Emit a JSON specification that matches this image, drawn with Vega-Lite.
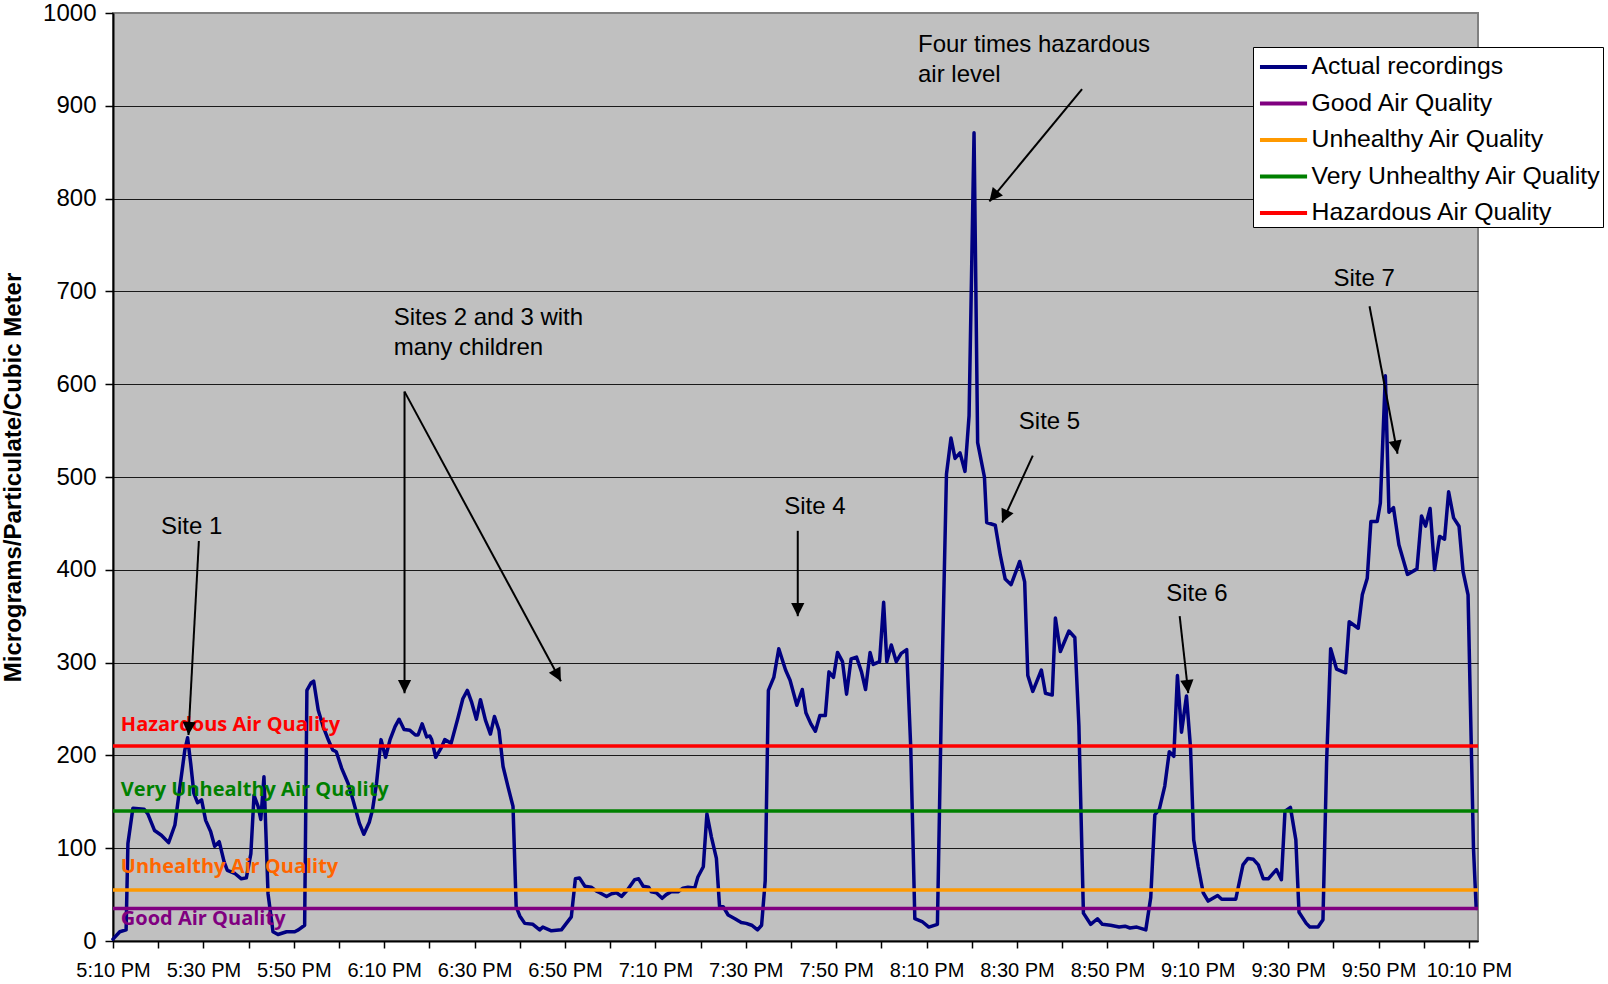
{
  "$schema": "https://vega.github.io/schema/vega-lite/v6.json",
  "width": 1365,
  "height": 928,
  "autosize": "none",
  "padding": {"left": 113, "top": 13, "right": 130, "bottom": 43},
  "background": "white",
  "config": {
    "font": "Liberation Sans",
    "view": {"fill": "#C0C0C0", "stroke": "#808080", "strokeWidth": 2},
    "axis": {"labelColor": "black", "tickColor": "black", "domainColor": "black", "titleColor": "black", "labelFont": "Liberation Sans", "titleFont": "Liberation Sans"}
  },
  "datasets": {
    "readings": [
      {"t": "17:10:00", "v": 2}, {"t": "17:11:30", "v": 10}, {"t": "17:12:54", "v": 12}, {"t": "17:13:18", "v": 105},
      {"t": "17:14:24", "v": 143}, {"t": "17:16:54", "v": 142}, {"t": "17:17:42", "v": 137}, {"t": "17:19:12", "v": 119},
      {"t": "17:20:42", "v": 114}, {"t": "17:22:18", "v": 106}, {"t": "17:23:42", "v": 125}, {"t": "17:24:48", "v": 166},
      {"t": "17:25:54", "v": 206}, {"t": "17:26:30", "v": 219}, {"t": "17:27:12", "v": 191}, {"t": "17:27:54", "v": 159},
      {"t": "17:28:42", "v": 149}, {"t": "17:29:36", "v": 152}, {"t": "17:30:30", "v": 130}, {"t": "17:31:36", "v": 118},
      {"t": "17:32:30", "v": 102}, {"t": "17:33:30", "v": 107}, {"t": "17:34:36", "v": 85}, {"t": "17:35:18", "v": 76},
      {"t": "17:36:54", "v": 73}, {"t": "17:38:24", "v": 67}, {"t": "17:39:30", "v": 68}, {"t": "17:40:30", "v": 94},
      {"t": "17:41:12", "v": 157}, {"t": "17:42:06", "v": 145}, {"t": "17:42:42", "v": 131}, {"t": "17:43:24", "v": 177},
      {"t": "17:44:18", "v": 51}, {"t": "17:45:24", "v": 10}, {"t": "17:46:30", "v": 7}, {"t": "17:48:24", "v": 10},
      {"t": "17:50:12", "v": 10}, {"t": "17:51:00", "v": 12}, {"t": "17:52:24", "v": 17}, {"t": "17:52:54", "v": 270},
      {"t": "17:53:48", "v": 278}, {"t": "17:54:24", "v": 280}, {"t": "17:55:24", "v": 249}, {"t": "17:56:30", "v": 231},
      {"t": "17:57:42", "v": 216}, {"t": "17:58:36", "v": 206}, {"t": "17:59:24", "v": 204}, {"t": "18:00:36", "v": 186},
      {"t": "18:02:00", "v": 170}, {"t": "18:03:06", "v": 152}, {"t": "18:04:30", "v": 127}, {"t": "18:05:30", "v": 115},
      {"t": "18:06:42", "v": 128}, {"t": "18:07:24", "v": 141}, {"t": "18:08:18", "v": 170}, {"t": "18:09:18", "v": 217},
      {"t": "18:10:18", "v": 198}, {"t": "18:11:18", "v": 217}, {"t": "18:12:24", "v": 231}, {"t": "18:13:18", "v": 239},
      {"t": "18:14:24", "v": 228}, {"t": "18:15:42", "v": 227}, {"t": "18:16:54", "v": 222}, {"t": "18:17:30", "v": 222},
      {"t": "18:18:24", "v": 234}, {"t": "18:19:24", "v": 220}, {"t": "18:20:06", "v": 221}, {"t": "18:20:30", "v": 217},
      {"t": "18:21:24", "v": 198}, {"t": "18:22:42", "v": 209}, {"t": "18:23:24", "v": 217}, {"t": "18:24:48", "v": 213},
      {"t": "18:26:18", "v": 240}, {"t": "18:27:24", "v": 261}, {"t": "18:28:24", "v": 270}, {"t": "18:29:18", "v": 258},
      {"t": "18:30:24", "v": 239}, {"t": "18:31:18", "v": 260}, {"t": "18:32:24", "v": 238}, {"t": "18:33:30", "v": 223},
      {"t": "18:34:24", "v": 242}, {"t": "18:35:24", "v": 227}, {"t": "18:36:18", "v": 188}, {"t": "18:37:24", "v": 166},
      {"t": "18:38:30", "v": 145}, {"t": "18:39:12", "v": 37}, {"t": "18:40:00", "v": 27}, {"t": "18:41:06", "v": 19},
      {"t": "18:42:54", "v": 18}, {"t": "18:44:24", "v": 12}, {"t": "18:45:06", "v": 15}, {"t": "18:47:00", "v": 11},
      {"t": "18:49:12", "v": 12}, {"t": "18:51:24", "v": 26}, {"t": "18:52:18", "v": 67}, {"t": "18:53:12", "v": 68},
      {"t": "18:54:24", "v": 59}, {"t": "18:55:48", "v": 58}, {"t": "18:56:54", "v": 54}, {"t": "18:57:42", "v": 52},
      {"t": "18:59:12", "v": 48}, {"t": "19:00:18", "v": 51}, {"t": "19:01:24", "v": 52}, {"t": "19:02:30", "v": 48},
      {"t": "19:03:48", "v": 55}, {"t": "19:05:24", "v": 66}, {"t": "19:06:18", "v": 67}, {"t": "19:07:18", "v": 59},
      {"t": "19:08:30", "v": 58}, {"t": "19:09:06", "v": 53}, {"t": "19:10:12", "v": 52}, {"t": "19:11:30", "v": 46},
      {"t": "19:12:24", "v": 50}, {"t": "19:13:30", "v": 53}, {"t": "19:15:00", "v": 53}, {"t": "19:16:06", "v": 57},
      {"t": "19:17:12", "v": 58}, {"t": "19:18:42", "v": 57}, {"t": "19:19:24", "v": 69}, {"t": "19:20:36", "v": 80},
      {"t": "19:21:24", "v": 137}, {"t": "19:22:24", "v": 112}, {"t": "19:23:30", "v": 89}, {"t": "19:24:12", "v": 37},
      {"t": "19:25:00", "v": 37}, {"t": "19:26:06", "v": 28}, {"t": "19:27:36", "v": 24}, {"t": "19:29:00", "v": 20},
      {"t": "19:30:06", "v": 19}, {"t": "19:31:18", "v": 17}, {"t": "19:32:36", "v": 12}, {"t": "19:33:30", "v": 17},
      {"t": "19:34:18", "v": 65}, {"t": "19:35:00", "v": 270}, {"t": "19:36:12", "v": 284}, {"t": "19:37:18", "v": 315},
      {"t": "19:38:48", "v": 292}, {"t": "19:39:48", "v": 281}, {"t": "19:41:18", "v": 254}, {"t": "19:42:30", "v": 271},
      {"t": "19:43:18", "v": 246}, {"t": "19:44:24", "v": 234}, {"t": "19:45:24", "v": 226}, {"t": "19:46:24", "v": 243},
      {"t": "19:47:36", "v": 243}, {"t": "19:48:24", "v": 290}, {"t": "19:49:24", "v": 284}, {"t": "19:50:18", "v": 311},
      {"t": "19:51:24", "v": 301}, {"t": "19:52:18", "v": 266}, {"t": "19:53:18", "v": 304}, {"t": "19:54:30", "v": 306},
      {"t": "19:55:36", "v": 290}, {"t": "19:56:30", "v": 271}, {"t": "19:57:30", "v": 311}, {"t": "19:58:12", "v": 298},
      {"t": "19:59:36", "v": 301}, {"t": "20:00:30", "v": 365}, {"t": "20:01:12", "v": 301}, {"t": "20:02:12", "v": 319},
      {"t": "20:03:18", "v": 301}, {"t": "20:04:24", "v": 310}, {"t": "20:05:36", "v": 314}, {"t": "20:06:30", "v": 208},
      {"t": "20:07:24", "v": 24}, {"t": "20:09:00", "v": 21}, {"t": "20:10:30", "v": 15}, {"t": "20:12:24", "v": 18},
      {"t": "20:13:18", "v": 260}, {"t": "20:14:24", "v": 503}, {"t": "20:15:24", "v": 542}, {"t": "20:16:18", "v": 520},
      {"t": "20:17:24", "v": 526}, {"t": "20:18:30", "v": 506}, {"t": "20:19:24", "v": 566}, {"t": "20:20:30", "v": 871},
      {"t": "20:21:18", "v": 537}, {"t": "20:22:48", "v": 500}, {"t": "20:23:18", "v": 451}, {"t": "20:25:12", "v": 448},
      {"t": "20:26:18", "v": 416}, {"t": "20:27:24", "v": 390}, {"t": "20:28:42", "v": 384}, {"t": "20:30:36", "v": 409},
      {"t": "20:31:42", "v": 387}, {"t": "20:32:24", "v": 286}, {"t": "20:33:30", "v": 269}, {"t": "20:35:24", "v": 292},
      {"t": "20:36:18", "v": 267}, {"t": "20:37:48", "v": 265}, {"t": "20:38:30", "v": 348}, {"t": "20:39:36", "v": 312},
      {"t": "20:41:30", "v": 334}, {"t": "20:42:48", "v": 327}, {"t": "20:43:42", "v": 232}, {"t": "20:44:42", "v": 30},
      {"t": "20:46:18", "v": 18}, {"t": "20:47:48", "v": 24}, {"t": "20:48:54", "v": 18}, {"t": "20:50:42", "v": 17},
      {"t": "20:52:36", "v": 15}, {"t": "20:53:54", "v": 16}, {"t": "20:55:00", "v": 14}, {"t": "20:56:30", "v": 15},
      {"t": "20:58:30", "v": 12}, {"t": "20:59:36", "v": 47}, {"t": "21:00:30", "v": 136}, {"t": "21:01:30", "v": 142},
      {"t": "21:02:42", "v": 167}, {"t": "21:03:42", "v": 204}, {"t": "21:04:42", "v": 199}, {"t": "21:05:30", "v": 286},
      {"t": "21:06:24", "v": 225}, {"t": "21:07:30", "v": 264}, {"t": "21:08:24", "v": 208}, {"t": "21:09:06", "v": 109},
      {"t": "21:10:06", "v": 80}, {"t": "21:11:12", "v": 52}, {"t": "21:12:18", "v": 43}, {"t": "21:14:24", "v": 49},
      {"t": "21:15:18", "v": 45}, {"t": "21:18:24", "v": 45}, {"t": "21:20:00", "v": 82}, {"t": "21:21:06", "v": 89},
      {"t": "21:22:18", "v": 88}, {"t": "21:23:24", "v": 82}, {"t": "21:24:30", "v": 67}, {"t": "21:25:36", "v": 67},
      {"t": "21:27:24", "v": 77}, {"t": "21:28:30", "v": 66}, {"t": "21:29:18", "v": 140}, {"t": "21:30:30", "v": 144},
      {"t": "21:31:42", "v": 109}, {"t": "21:32:24", "v": 31}, {"t": "21:34:00", "v": 19}, {"t": "21:34:48", "v": 15},
      {"t": "21:36:36", "v": 15}, {"t": "21:37:42", "v": 23}, {"t": "21:38:30", "v": 192}, {"t": "21:39:24", "v": 315},
      {"t": "21:40:42", "v": 293}, {"t": "21:42:42", "v": 289}, {"t": "21:43:30", "v": 344}, {"t": "21:45:30", "v": 337},
      {"t": "21:46:24", "v": 373}, {"t": "21:47:30", "v": 391}, {"t": "21:48:18", "v": 452}, {"t": "21:49:42", "v": 452},
      {"t": "21:50:24", "v": 472}, {"t": "21:51:30", "v": 609}, {"t": "21:52:18", "v": 462}, {"t": "21:53:18", "v": 467},
      {"t": "21:54:30", "v": 427}, {"t": "21:56:24", "v": 395}, {"t": "21:58:30", "v": 401}, {"t": "21:59:30", "v": 458},
      {"t": "22:00:24", "v": 447}, {"t": "22:01:24", "v": 466}, {"t": "22:02:24", "v": 400}, {"t": "22:03:30", "v": 436},
      {"t": "22:04:36", "v": 433}, {"t": "22:05:30", "v": 484}, {"t": "22:06:36", "v": 456}, {"t": "22:07:48", "v": 447},
      {"t": "22:08:42", "v": 398}, {"t": "22:09:48", "v": 373}, {"t": "22:11:00", "v": 100}, {"t": "22:11:36", "v": 35}
    ],
    "levels": [
      {"level": "Good Air Quality", "v": 35},
      {"level": "Unhealthy Air Quality", "v": 55},
      {"level": "Very Unhealthy Air Quality", "v": 140},
      {"level": "Hazardous Air Quality", "v": 210}
    ],
    "levelTags": [
      {"level": "Hazardous Air Quality", "t": "17:11:44", "v": 233},
      {"level": "Very Unhealthy Air Quality", "t": "17:11:44", "v": 163},
      {"level": "Unhealthy Air Quality", "t": "17:11:44", "v": 80},
      {"level": "Good Air Quality", "t": "17:11:44", "v": 24}
    ],
    "siteNotes": [
      {"note": "Site 1", "t": "17:27:24", "v": 439},
      {"note": "Site 4", "t": "19:45:18", "v": 460},
      {"note": "Site 5", "t": "20:37:12", "v": 552},
      {"note": "Site 6", "t": "21:09:48", "v": 366},
      {"note": "Site 7", "t": "21:46:48", "v": 706}
    ],
    "longNotes": [
      {"note": "Sites 2 and 3 with\nmany children", "t": "18:12:06", "v": 664},
      {"note": "Four times hazardous\nair level", "t": "20:08:06", "v": 958}
    ],
    "arrows": [
      {"arrow": "site1", "part": "tail", "t": "17:29:00", "v": 431},
      {"arrow": "site1", "part": "tip", "t": "17:26:42", "v": 222},
      {"arrow": "sites23a", "part": "tail", "t": "18:14:30", "v": 592},
      {"arrow": "sites23a", "part": "tip", "t": "18:14:30", "v": 267},
      {"arrow": "sites23b", "part": "tail", "t": "18:14:30", "v": 592},
      {"arrow": "sites23b", "part": "tip", "t": "18:49:06", "v": 280},
      {"arrow": "site4", "part": "tail", "t": "19:41:30", "v": 442},
      {"arrow": "site4", "part": "tip", "t": "19:41:30", "v": 350},
      {"arrow": "peak", "part": "tail", "t": "20:44:24", "v": 918},
      {"arrow": "peak", "part": "tip", "t": "20:23:54", "v": 797},
      {"arrow": "site5", "part": "tail", "t": "20:33:30", "v": 523},
      {"arrow": "site5", "part": "tip", "t": "20:26:42", "v": 451},
      {"arrow": "site6", "part": "tail", "t": "21:06:00", "v": 350},
      {"arrow": "site6", "part": "tip", "t": "21:07:54", "v": 267},
      {"arrow": "site7", "part": "tail", "t": "21:48:00", "v": 684},
      {"arrow": "site7", "part": "tip", "t": "21:54:12", "v": 525}
    ]
  },
  "layer": [
    {
      "data": {"name": "readings", "format": {"parse": {"t": "date:'%H:%M:%S'"}}},
      "mark": {"type": "line", "strokeWidth": 3.5, "strokeJoin": "round", "strokeCap": "round"},
      "encoding": {
        "x": {
          "field": "t", "type": "temporal",
          "scale": {
            "domain": [
              {"year": 1900, "month": 1, "date": 1, "hours": 17, "minutes": 10},
              {"year": 1900, "month": 1, "date": 1, "hours": 22, "minutes": 12}
            ],
            "nice": false
          },
          "axis": {
            "title": null,
            "grid": false,
            "values": [
              {"year": 1900, "month": 1, "date": 1, "hours": 17, "minutes": 10},
              {"year": 1900, "month": 1, "date": 1, "hours": 17, "minutes": 20},
              {"year": 1900, "month": 1, "date": 1, "hours": 17, "minutes": 30},
              {"year": 1900, "month": 1, "date": 1, "hours": 17, "minutes": 40},
              {"year": 1900, "month": 1, "date": 1, "hours": 17, "minutes": 50},
              {"year": 1900, "month": 1, "date": 1, "hours": 18, "minutes": 0},
              {"year": 1900, "month": 1, "date": 1, "hours": 18, "minutes": 10},
              {"year": 1900, "month": 1, "date": 1, "hours": 18, "minutes": 20},
              {"year": 1900, "month": 1, "date": 1, "hours": 18, "minutes": 30},
              {"year": 1900, "month": 1, "date": 1, "hours": 18, "minutes": 40},
              {"year": 1900, "month": 1, "date": 1, "hours": 18, "minutes": 50},
              {"year": 1900, "month": 1, "date": 1, "hours": 19, "minutes": 0},
              {"year": 1900, "month": 1, "date": 1, "hours": 19, "minutes": 10},
              {"year": 1900, "month": 1, "date": 1, "hours": 19, "minutes": 20},
              {"year": 1900, "month": 1, "date": 1, "hours": 19, "minutes": 30},
              {"year": 1900, "month": 1, "date": 1, "hours": 19, "minutes": 40},
              {"year": 1900, "month": 1, "date": 1, "hours": 19, "minutes": 50},
              {"year": 1900, "month": 1, "date": 1, "hours": 20, "minutes": 0},
              {"year": 1900, "month": 1, "date": 1, "hours": 20, "minutes": 10},
              {"year": 1900, "month": 1, "date": 1, "hours": 20, "minutes": 20},
              {"year": 1900, "month": 1, "date": 1, "hours": 20, "minutes": 30},
              {"year": 1900, "month": 1, "date": 1, "hours": 20, "minutes": 40},
              {"year": 1900, "month": 1, "date": 1, "hours": 20, "minutes": 50},
              {"year": 1900, "month": 1, "date": 1, "hours": 21, "minutes": 0},
              {"year": 1900, "month": 1, "date": 1, "hours": 21, "minutes": 10},
              {"year": 1900, "month": 1, "date": 1, "hours": 21, "minutes": 20},
              {"year": 1900, "month": 1, "date": 1, "hours": 21, "minutes": 30},
              {"year": 1900, "month": 1, "date": 1, "hours": 21, "minutes": 40},
              {"year": 1900, "month": 1, "date": 1, "hours": 21, "minutes": 50},
              {"year": 1900, "month": 1, "date": 1, "hours": 22, "minutes": 0},
              {"year": 1900, "month": 1, "date": 1, "hours": 22, "minutes": 10}
            ],
            "labelExpr": "minutes(datum.value) % 20 == 10 ? timeFormat(datum.value, '%-I:%M %p') : ''",
            "labelFontSize": 20,
            "labelOverlap": false,
            "labelFlush": false,
            "tickSize": 7,
            "tickWidth": 1.5,
            "labelPadding": 12,
            "domainWidth": 2
          }
        },
        "y": {
          "field": "v", "type": "quantitative",
          "scale": {"domain": [0, 1000], "nice": false},
          "axis": {
            "title": "Micrograms/Particulate/Cubic Meter",
            "titleFontSize": 24,
            "titleFontWeight": "bold",
            "titleAngle": -90,
            "titleX": -100,
            "titleY": 464,
            "titleAlign": "center",
            "titleBaseline": "middle",
            "values": [0, 100, 200, 300, 400, 500, 600, 700, 800, 900, 1000],
            "format": "d",
            "labelFontSize": 24,
            "tickSize": 8,
            "tickWidth": 1.5,
            "labelPadding": 9,
            "domainWidth": 2,
            "grid": true,
            "gridWidth": 1,
            "gridColor": {"condition": {"test": "datum.value === 1000", "value": "#808080"}, "value": "#1a1a1a"}
          }
        },
        "color": {
          "datum": "Actual recordings", "type": "nominal",
          "scale": {
            "domain": ["Actual recordings", "Good Air Quality", "Unhealthy Air Quality", "Very Unhealthy Air Quality", "Hazardous Air Quality"],
            "range": ["#000080", "#800080", "#FF9900", "#008000", "#FF0000"]
          },
          "legend": {
            "title": null,
            "orient": "none",
            "legendX": 1140,
            "legendY": 34,
            "symbolType": "M-0.83,0L2.17,0",
            "symbolSize": 986,
            "symbolStrokeWidth": 4,
            "labelFont": "Liberation Sans",
            "labelFontSize": 24.8,
            "labelColor": "black",
            "labelOffset": 20.5,
            "labelLimit": 400,
            "padding": 2,
            "rowPadding": 6.5,
            "fillColor": "white",
            "strokeColor": "black"
          }
        }
      }
    },
    {
      "data": {"name": "levels"},
      "mark": {"type": "rule", "strokeWidth": 3.5},
      "encoding": {
        "y": {"field": "v", "type": "quantitative"},
        "color": {"field": "level", "type": "nominal", "legend": {"title": null}}
      }
    },
    {
      "data": {"name": "levelTags", "format": {"parse": {"t": "date:'%H:%M:%S'"}}},
      "mark": {"type": "text", "align": "left", "baseline": "middle", "font": "Open Sans", "fontWeight": "bold", "fontSize": 20},
      "encoding": {
        "x": {"field": "t", "type": "temporal"},
        "y": {"field": "v", "type": "quantitative"},
        "text": {"field": "level"},
        "color": {
          "condition": [
            {"test": "datum.level === 'Hazardous Air Quality'", "value": "#FF0000"},
            {"test": "datum.level === 'Very Unhealthy Air Quality'", "value": "#008000"},
            {"test": "datum.level === 'Unhealthy Air Quality'", "value": "#FF6600"}
          ],
          "value": "#800080"
        }
      }
    },
    {
      "data": {"name": "arrows", "format": {"parse": {"t": "date:'%H:%M:%S'"}}},
      "mark": {"type": "line", "strokeWidth": 2, "color": "black"},
      "encoding": {
        "x": {"field": "t", "type": "temporal"},
        "y": {"field": "v", "type": "quantitative"},
        "detail": {"field": "arrow"}
      }
    },
    {
      "data": {"values": [{"t": "17:26:42", "v": 222}], "format": {"parse": {"t": "date:'%H:%M:%S'"}}},
      "mark": {"type": "point", "shape": "M0,0L-0.5,-1L0.5,-1Z", "size": 700, "filled": true, "color": "black", "opacity": 1, "angle": 3.2},
      "encoding": {"x": {"field": "t", "type": "temporal"}, "y": {"field": "v", "type": "quantitative"}}
    },
    {
      "data": {"values": [{"t": "18:14:30", "v": 267}, {"t": "19:41:30", "v": 350}], "format": {"parse": {"t": "date:'%H:%M:%S'"}}},
      "mark": {"type": "point", "shape": "M0,0L-0.5,-1L0.5,-1Z", "size": 700, "filled": true, "color": "black", "opacity": 1, "angle": 0},
      "encoding": {"x": {"field": "t", "type": "temporal"}, "y": {"field": "v", "type": "quantitative"}}
    },
    {
      "data": {"values": [{"t": "18:49:06", "v": 280}], "format": {"parse": {"t": "date:'%H:%M:%S'"}}},
      "mark": {"type": "point", "shape": "M0,0L-0.5,-1L0.5,-1Z", "size": 700, "filled": true, "color": "black", "opacity": 1, "angle": -28.4},
      "encoding": {"x": {"field": "t", "type": "temporal"}, "y": {"field": "v", "type": "quantitative"}}
    },
    {
      "data": {"values": [{"t": "20:23:54", "v": 797}], "format": {"parse": {"t": "date:'%H:%M:%S'"}}},
      "mark": {"type": "point", "shape": "M0,0L-0.5,-1L0.5,-1Z", "size": 700, "filled": true, "color": "black", "opacity": 1, "angle": 39.5},
      "encoding": {"x": {"field": "t", "type": "temporal"}, "y": {"field": "v", "type": "quantitative"}}
    },
    {
      "data": {"values": [{"t": "20:26:42", "v": 451}], "format": {"parse": {"t": "date:'%H:%M:%S'"}}},
      "mark": {"type": "point", "shape": "M0,0L-0.5,-1L0.5,-1Z", "size": 700, "filled": true, "color": "black", "opacity": 1, "angle": 24.4},
      "encoding": {"x": {"field": "t", "type": "temporal"}, "y": {"field": "v", "type": "quantitative"}}
    },
    {
      "data": {"values": [{"t": "21:07:54", "v": 267}], "format": {"parse": {"t": "date:'%H:%M:%S'"}}},
      "mark": {"type": "point", "shape": "M0,0L-0.5,-1L0.5,-1Z", "size": 700, "filled": true, "color": "black", "opacity": 1, "angle": -6.1},
      "encoding": {"x": {"field": "t", "type": "temporal"}, "y": {"field": "v", "type": "quantitative"}}
    },
    {
      "data": {"values": [{"t": "21:54:12", "v": 525}], "format": {"parse": {"t": "date:'%H:%M:%S'"}}},
      "mark": {"type": "point", "shape": "M0,0L-0.5,-1L0.5,-1Z", "size": 700, "filled": true, "color": "black", "opacity": 1, "angle": -10.7},
      "encoding": {"x": {"field": "t", "type": "temporal"}, "y": {"field": "v", "type": "quantitative"}}
    },
    {
      "data": {"name": "siteNotes", "format": {"parse": {"t": "date:'%H:%M:%S'"}}},
      "mark": {"type": "text", "align": "center", "baseline": "alphabetic", "font": "Liberation Sans", "fontSize": 24, "color": "black"},
      "encoding": {
        "x": {"field": "t", "type": "temporal"},
        "y": {"field": "v", "type": "quantitative"},
        "text": {"field": "note"}
      }
    },
    {
      "data": {"name": "longNotes", "format": {"parse": {"t": "date:'%H:%M:%S'"}}},
      "mark": {"type": "text", "align": "left", "baseline": "alphabetic", "font": "Liberation Sans", "fontSize": 24, "color": "black", "lineBreak": "\n", "lineHeight": 30},
      "encoding": {
        "x": {"field": "t", "type": "temporal"},
        "y": {"field": "v", "type": "quantitative"},
        "text": {"field": "note"}
      }
    }
  ]
}
